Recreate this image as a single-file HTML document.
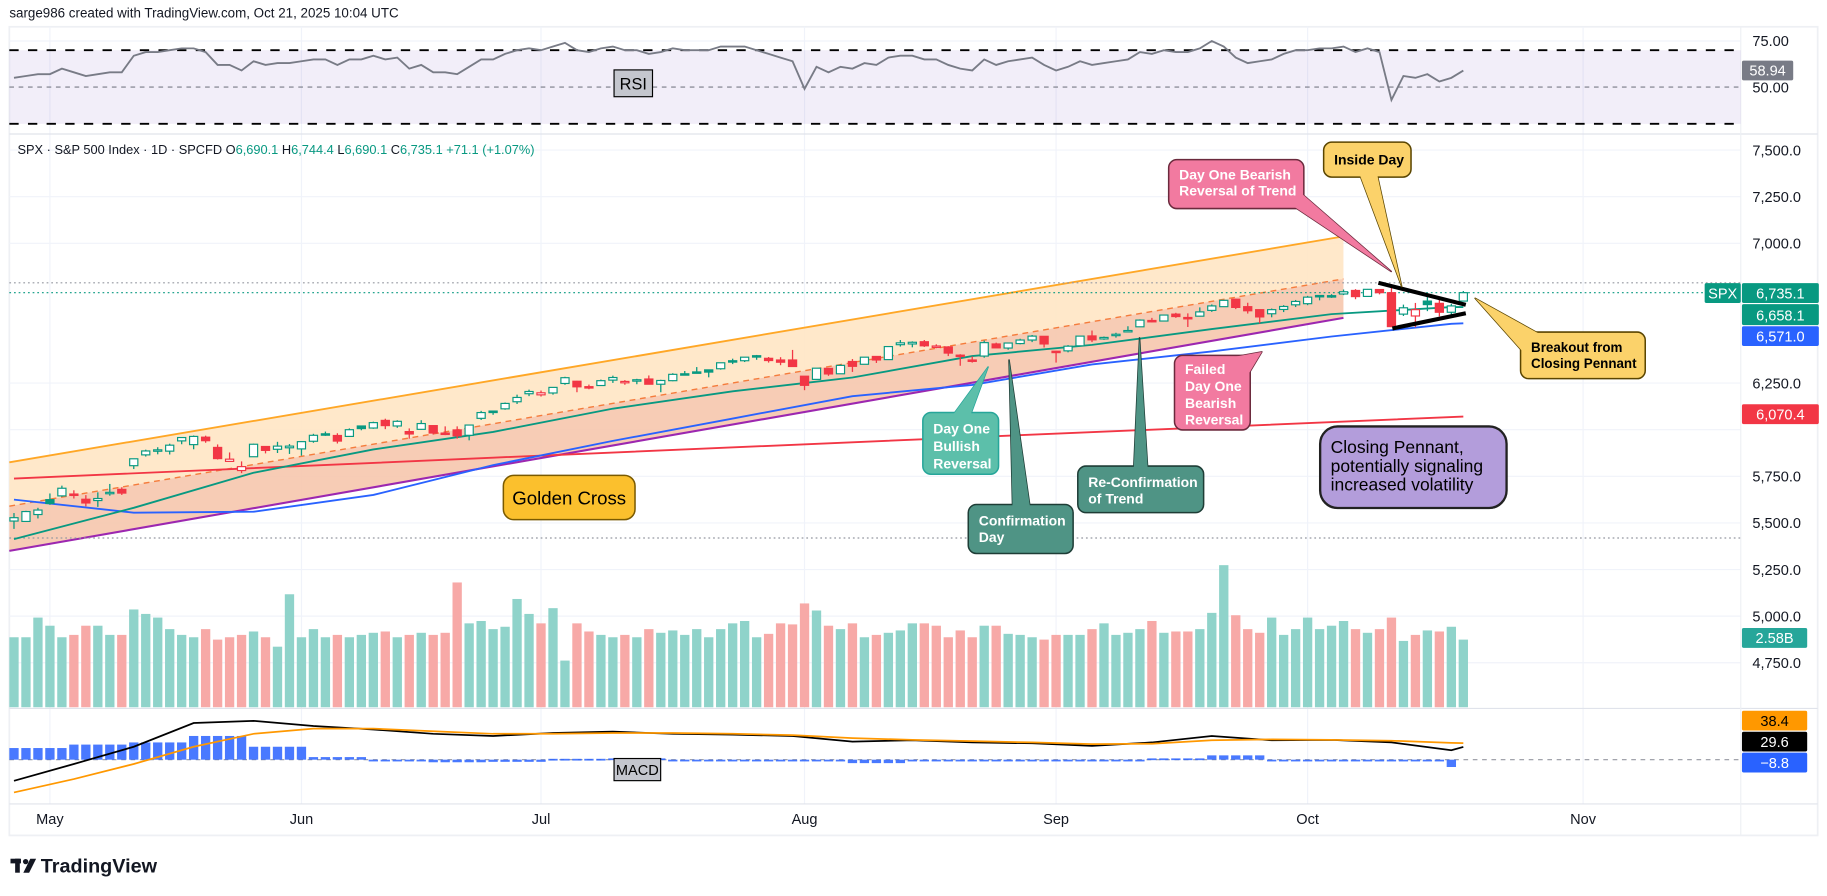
<!DOCTYPE html>
<html><head><meta charset="utf-8"><style>
html,body{margin:0;padding:0;background:#fff;overflow:hidden}
svg{display:block;font-family:"Liberation Sans",sans-serif}
</style></head><body>
<svg id="c" width="1827" height="896" viewBox="0 0 1568 769" preserveAspectRatio="none" xmlns="http://www.w3.org/2000/svg">
<rect x="0" y="0" width="1568" height="769" fill="#fff"/>
<text x="8" y="15" font-size="11.5" fill="#131722">sarge986 created with TradingView.com, Oct 21, 2025 10:04 UTC</text>
<rect x="8" y="23" width="1552" height="694" fill="none" stroke="#eef0f4" stroke-width="1.5"/>
<g id="grid"></g>
<g id="rsi"></g>
<g id="channel"></g>
<g id="vol"></g>
<g id="mas"></g>
<g id="candles"></g>
<g id="macd"></g>
<g id="notes"></g>
<g id="axes"></g>
</svg>
<script>
const NS='http://www.w3.org/2000/svg';
const closes=[5528,5561,5569,5604,5686,5650,5607,5631,5664,5660,5844,5886,5892,5917,5958,5964,5941,5845,5842,5802,5922,5889,5912,5912,5936,5970,5971,5939,6000,6006,6038,6022,6045,5977,6033,5982,5981,5967,6025,6092,6092,6141,6173,6205,6198,6227,6279,6230,6226,6263,6280,6259,6268,6244,6264,6297,6297,6306,6309,6359,6363,6389,6390,6371,6362,6339,6238,6330,6299,6345,6340,6389,6374,6446,6466,6469,6450,6449,6411,6396,6370,6467,6439,6465,6481,6502,6460,6416,6448,6502,6482,6495,6512,6532,6588,6584,6615,6607,6600,6632,6664,6694,6656,6638,6605,6644,6661,6688,6711,6715,6716,6740,6714,6753,6735,6553,6654,6644,6671,6630,6664,6735];
const opens=[5510,5508,5545,5625,5645,5655,5627,5620,5660,5680,5807,5865,5890,5885,5940,5920,5960,5905,5830,5781,5855,5910,5895,5903,5897,5938,5978,5969,5964,6020,6009,6050,6020,5990,6002,6022,5982,5999,5970,6061,6100,6112,6150,6193,6187,6197,6248,6260,6231,6237,6266,6257,6261,6272,6244,6263,6300,6310,6321,6327,6370,6370,6397,6383,6374,6374,6287,6270,6329,6300,6366,6351,6393,6376,6456,6460,6472,6445,6444,6400,6374,6395,6460,6438,6462,6481,6501,6421,6423,6450,6503,6487,6505,6525,6552,6586,6583,6620,6602,6609,6640,6660,6700,6660,6644,6622,6645,6670,6676,6720,6719,6728,6747,6715,6752,6735,6620,6610,6690,6678,6630,6690];
const highs=[5553,5565,5581,5658,5700,5675,5649,5664,5709,5691,5845,5893,5906,5925,5959,5969,5968,5921,5878,5830,5925,5912,5935,5923,5938,5978,5990,5981,6007,6021,6043,6059,6051,6007,6051,6023,6018,6018,6028,6101,6101,6146,6188,6215,6210,6227,6284,6262,6242,6269,6290,6266,6273,6291,6268,6303,6315,6336,6322,6360,6381,6390,6401,6390,6389,6428,6288,6330,6330,6350,6379,6390,6395,6446,6481,6474,6481,6458,6448,6405,6393,6478,6467,6466,6488,6508,6502,6423,6454,6502,6532,6500,6520,6555,6592,6600,6616,6627,6624,6656,6672,6694,6702,6681,6645,6650,6668,6696,6718,6720,6727,6752,6754,6755,6754,6764,6671,6680,6725,6710,6675,6744];
const lows=[5468,5505,5524,5597,5640,5631,5589,5586,5646,5650,5789,5856,5868,5867,5922,5895,5930,5840,5830,5767,5855,5873,5875,5870,5861,5930,5967,5926,5964,5997,6005,6003,6010,5952,6000,5974,5971,5952,5943,6052,6080,6107,6138,6180,6178,6188,6241,6201,6217,6237,6251,6241,6244,6243,6201,6260,6291,6303,6281,6322,6352,6363,6375,6360,6346,6338,6212,6270,6289,6300,6310,6351,6358,6375,6446,6442,6444,6437,6395,6343,6360,6386,6439,6429,6458,6470,6441,6360,6415,6446,6470,6482,6494,6525,6551,6575,6581,6600,6551,6607,6632,6660,6647,6623,6570,6603,6631,6658,6668,6694,6707,6722,6700,6715,6726,6551,6610,6550,6636,6608,6610,6690];
const volumes=[2.67,2.67,3.42,3.11,2.67,2.76,3.11,3.11,2.76,2.76,3.73,3.56,3.42,2.98,2.76,2.67,2.98,2.58,2.67,2.76,2.89,2.67,2.31,4.31,2.67,2.98,2.67,2.76,2.67,2.76,2.84,2.89,2.67,2.76,2.84,2.76,2.84,4.76,3.2,3.29,2.98,3.07,4.13,3.56,3.2,3.78,1.78,3.2,2.89,2.76,2.67,2.76,2.67,2.98,2.84,2.93,2.76,2.98,2.67,2.98,3.2,3.29,2.67,2.8,3.2,3.16,3.96,3.69,3.11,2.98,3.2,2.67,2.76,2.84,2.93,3.2,3.2,3.11,2.67,2.93,2.67,3.11,3.11,2.8,2.76,2.67,2.58,2.76,2.76,2.76,2.98,3.2,2.76,2.84,2.98,3.29,2.84,2.89,2.89,2.98,3.6,5.42,3.51,2.98,2.84,3.42,2.76,2.98,3.42,2.98,3.11,3.29,2.98,2.84,2.98,3.42,2.53,2.76,2.93,2.89,3.07,2.58];
const rsiValues=[55,56,57,57,60,58,56,57,58,58,67,69,69,70,71,71,69,62,62,59,64,62,63,63,64,65,65,62,65,65,67,65,66,60,62,58,58,57,61,65,65,68,70,71,70,72,74,70,69,71,72,70,70,68,69,71,70,70,70,72,72,72,70,68,66,64,49,61,58,61,60,63,62,66,67,67,65,65,62,60,59,65,62,64,65,66,62,59,61,64,62,63,64,65,69,68,70,69,69,71,75,72,66,63,64,65,68,70,70,71,71,72,69,71,69,43,56,55,57,53,55,58.94];
const maIdx=[0,10,20,30,40,50,60,70,80,90,100,110,120,121];
const ema20=[5413,5581,5769,5894,5988,6113,6206,6280,6395,6455,6540,6620,6658,6658];
const sma50=[5625,5555,5560,5650,5810,5940,6060,6180,6240,6350,6420,6500,6568,6571];
const sma200Idx=[0,40,80,121];
const sma200=[5738,5850,5960,6070.4];
const macdIdx=[0,5,10,15,20,25,30,35,40,45,50,55,60,65,70,75,80,85,90,95,100,105,110,115,120,121];
const macdLine=[-49,-10,30,85,90,78,70,60,55,62,65,60,58,55,42,45,40,38,32,40,55,45,46,40,22,29.6];
const signalLine=[-76,-45,-10,30,60,72,72,66,60,60,62,62,60,57,50,46,43,40,36,37,45,47,46,44,39,38.4];
const priceTicks=[7500,7250,7000,6250,5750,5500,5250,5000,4750];
const rsiTicks=[75,50];
const monthLabels=['May','Jun','Jul','Aug','Sep','Oct','Nov'];
const monthIdx=[3,24,44,66,87,108,131];

const X=i=>12+i*10.28, YP=p=>128.8+(7500-p)*0.16, YV=v=>607-v*22.5, YM=m=>652-m*0.37, YR=r=>74.7-(r-50)*1.58;
function mk(tag,attrs,parent){const e=document.createElementNS(NS,tag);for(const k in attrs)e.setAttribute(k,attrs[k]);document.getElementById(parent).appendChild(e);return e;}
function txt(parent,x,y,s,size,fill,anchor,weight){const t=mk('text',{x:x,y:y,'font-size':size,fill:fill,'text-anchor':anchor||'start','font-weight':weight||'normal'},parent);t.textContent=s;return t;}

priceTicks.concat([6000]).forEach(p=>{const l=mk('line',{x1:8,x2:1494,y1:YP(p),y2:YP(p),stroke:'#f0f3fa'},'grid');

});
monthIdx.forEach(i=>{const l=mk('line',{x1:X(i),x2:X(i),y1:23,y2:690,stroke:'#f0f3fa'},'grid');

});
[[115,'rsi-pane-divider'],[608,'macd-pane-divider'],[690,'time-axis-divider']].forEach(a=>{const l=mk('line',{x1:8,x2:1560,y1:a[0],y2:a[0],stroke:'#e0e3eb'},'grid');

});
const ax=mk('line',{x1:1494,x2:1494,y1:23,y2:717,stroke:'#eef0f4'},'grid');



const band=mk('rect',{x:8,y:YR(70),width:1486,height:YR(30)-YR(70),fill:'#7e57c2','fill-opacity':0.1},'rsi');


mk('line',{x1:8,x2:1494,y1:YR(75),y2:YR(75),stroke:'#f0f3fa'},'rsi');
[[70,'rsi-upper-band',[8,8],1.6,'#000'],[30,'rsi-lower-band',[8,8],1.6,'#000'],[50,'rsi-middle-band',[4,4],1,'#787b86']].forEach(a=>{const l=mk('line',{x1:8,x2:1494,y1:YR(a[0]),y2:YR(a[0]),stroke:a[4],'stroke-width':a[3],'stroke-dasharray':a[2].join(' ')},'rsi');

});
const rl=mk('polyline',{points:rsiValues.map((r,i)=>X(i)+','+YR(r)).join(' '),fill:'none',stroke:'#787b86','stroke-width':1.6},'rsi');


const rb=mk('rect',{x:527,y:60,width:33,height:23,fill:'#c4c6ce',stroke:'#000','stroke-width':1},'rsi');


txt('rsi',543.5,77,'RSI',14,'#000','middle');

const lg=mk('text',{x:15,y:132,'font-size':11,fill:'#131722'},'axes');


lg.innerHTML='SPX · S&amp;P 500 Index · 1D · SPCFD  O<tspan fill="#089981">6,690.1</tspan>  H<tspan fill="#089981">6,744.4</tspan>  L<tspan fill="#089981">6,690.1</tspan>  C<tspan fill="#089981">6,735.1</tspan>  <tspan fill="#089981">+71.1 (+1.07%)</tspan>';

const chX0=8,chX1=1153,up0=5825,up1=7037,mid0=5590,mid1=6809,lo0=5350,lo1=6600;
const f1=mk('polygon',{points:`${chX0},${YP(up0)} ${chX1},${YP(up1)} ${chX1},${YP(mid1)} ${chX0},${YP(mid0)}`,fill:'#ffe6c4','fill-opacity':0.9},'channel');


const f2=mk('polygon',{points:`${chX0},${YP(mid0)} ${chX1},${YP(mid1)} ${chX1},${YP(lo1)} ${chX0},${YP(lo0)}`,fill:'#f6c7ad','fill-opacity':0.9},'channel');


const l1=mk('line',{x1:chX0,y1:YP(up0),x2:chX1,y2:YP(up1),stroke:'#ffa726','stroke-width':1.6},'channel');


const l2=mk('line',{x1:chX0,y1:YP(mid0),x2:chX1,y2:YP(mid1),stroke:'#f57c3c','stroke-width':1.2,'stroke-dasharray':'5 4'},'channel');


const l3=mk('line',{x1:chX0,y1:YP(lo0),x2:chX1,y2:YP(lo1),stroke:'#9c27b0','stroke-width':1.8},'channel');


[[6788,'#9598a1','prior-high-line'],[6735,'#089981','last-price-line'],[5419,'#9598a1','prior-low-line']].forEach(a=>{const l=mk('line',{x1:8,x2:1494,y1:YP(a[0]),y2:YP(a[0]),stroke:a[1],'stroke-width':1,'stroke-dasharray':'1.5 2.5'},'channel');

});

volumes.forEach((v,i)=>{const up=i===0?closes[i]>=opens[i]:closes[i]>=closes[i-1];
const r=mk('rect',{x:X(i)-4,y:YV(v),width:8,height:607-YV(v),fill:up?'#8fd3ca':'#f7a9a7'},'vol');

});

function maLine(idx,vals,color,name,w){const p=mk('polyline',{points:idx.map((k,j)=>X(k)+','+YP(vals[j])).join(' '),fill:'none',stroke:color,'stroke-width':w,'stroke-linejoin':'round'},'mas');

}
maLine(sma200Idx,sma200,'#f23645','sma-200-line',1.6);
maLine(maIdx,sma50,'#2962ff','sma-50-line',1.6);
maLine(maIdx,ema20,'#089981','ema-20-line',1.6);

closes.forEach((c,i)=>{const o=opens[i];const up=i===0?c>=o:c>=closes[i-1];const col=up?'#089981':'#f23645';
const w=mk('line',{x1:X(i),x2:X(i),y1:YP(highs[i]),y2:YP(lows[i]),stroke:col,'stroke-width':1.1},'candles');


const top=YP(Math.max(o,c)),bot=YP(Math.min(o,c));
const b=mk('rect',{x:X(i)-3.5,y:top,width:7,height:Math.max(1.2,bot-top),fill:c<o?col:'#fff',stroke:col,'stroke-width':1},'candles');

});

[[1183,6788,1258,6670],[1195,6543,1258,6625]].forEach((a,k)=>{const l=mk('line',{x1:a[0],y1:YP(a[1]),x2:a[2],y2:YP(a[3]),stroke:'#000','stroke-width':3.5},'candles');

});

mk('line',{x1:8,x2:1494,y1:YM(0),y2:YM(0),stroke:'#9598a1','stroke-dasharray':'4 4'},'macd');
macdIdx.forEach((k,j)=>{if(j===macdIdx.length-1)return;const h=macdLine[j]-signalLine[j];
for(let i=k;i<macdIdx[j+1];i++){
const y0=YM(Math.max(h,0)),y1=YM(Math.min(h,0));
const r=mk('rect',{x:X(i)-4,y:y0,width:8,height:Math.max(1.5,y1-y0),fill:'#2962ff','fill-opacity':0.85},'macd');

}});
const ml=mk('polyline',{points:macdIdx.map((k,j)=>X(k)+','+YM(macdLine[j])).join(' '),fill:'none',stroke:'#000','stroke-width':1.5},'macd');


const sl=mk('polyline',{points:macdIdx.map((k,j)=>X(k)+','+YM(signalLine[j])).join(' '),fill:'none',stroke:'#ff9800','stroke-width':1.5},'macd');


const mb=mk('rect',{x:527,y:651,width:40,height:19,fill:'#c4c6ce',stroke:'#000'},'macd');


txt('macd',547,665,'MACD',12.5,'#000','middle');

function note(name,rx,ry,rw,rh,tri,fill,stroke,lines,color,size,weight,lh,ty,rad){
const g=mk('g',{},'notes');


const attrs={fill:fill,stroke:stroke,'stroke-width':1.3,'stroke-linejoin':'round'};
if(tri){const t=document.createElementNS(NS,'polygon');for(const k in attrs)t.setAttribute(k,attrs[k]);t.setAttribute('points',tri.map(p=>p.join(',')).join(' '));g.appendChild(t);}
const r=document.createElementNS(NS,'rect');for(const k in attrs)r.setAttribute(k,attrs[k]);
r.setAttribute('x',rx);r.setAttribute('y',ry);r.setAttribute('width',rw);r.setAttribute('height',rh);r.setAttribute('rx',rad||7);g.appendChild(r);
if(tri){const t=document.createElementNS(NS,'polygon');t.setAttribute('fill',fill);t.setAttribute('points',tri.map(p=>p.join(',')).join(' '));g.appendChild(t);}
lines.forEach((s,k)=>{const t=document.createElementNS(NS,'text');t.setAttribute('x',rx+9);t.setAttribute('y',ry+ty+k*lh);t.setAttribute('font-size',size);t.setAttribute('fill',color);t.setAttribute('font-weight',weight);t.textContent=s;g.appendChild(t);});
return g;}
note('golden-cross-note',432,408,113,38,null,'#fbc02d','#7a5a00',[],'#000',16,'normal',0,0,9);
txt('notes',488.5,433,'Golden Cross',16,'#000','middle');
note('day-one-bullish-reversal-note',792,354,65,53,[[818,356],[848,315],[833,356]],'#5cbfaa','#26a69a',['Day One','Bullish','Reversal'],'#fff',12,'bold',15,18);
note('confirmation-day-note',831,433,90,42,[[869,435],[866,309],[884,435]],'#4f9485','#1e3d36',['Confirmation','Day'],'#fff',12,'bold',14,18);
note('re-confirmation-note',925,400,108,40,[[973,402],[978,290],[985,402]],'#4f9485','#1e3d36',['Re-Confirmation','of Trend'],'#fff',12,'bold',14,18);
note('failed-bearish-reversal-note',1008,305,65,64,[[1055,307],[1083,302],[1071,322]],'#f27aa0','#6b2a3d',['Failed','Day One','Bearish','Reversal'],'#fff',12,'bold',14.5,16);
note('day-one-bearish-reversal-note',1003,137,116,42,[[1110,177],[1194,233],[1117,166]],'#f27aa0','#6b2a3d',['Day One Bearish','Reversal of Trend'],'#fff',12,'bold',14,17);
note('inside-day-note',1136,122,75,30,[[1167,150],[1203,246],[1182,150]],'#fbd26a','#5a4500',['Inside Day'],'#000',12,'bold',14,19);
note('breakout-note',1305,285,107,40,[[1307,302],[1266,256],[1322,287]],'#fbd26a','#5a4500',['Breakout from','Closing Pennant'],'#000',11.5,'bold',14,17);
const cp=note('closing-pennant-note',1133,366,160,70,null,'#b39ddb','#222',['Closing Pennant,','potentially signaling','increased volatility'],'#000',15,'normal',16,23,15);
cp.querySelector('rect').setAttribute('stroke-width',2);

priceTicks.forEach(p=>{const t=txt('axes',1504,YP(p)+4.5,p.toLocaleString('en-US',{minimumFractionDigits:1}),12.5,'#131722');
});
rsiTicks.forEach(r=>{const t=txt('axes',1504,YR(r)+4.5,r.toFixed(2),12.5,'#131722');
});
monthLabels.forEach((m,k)=>{const t=txt('axes',X(monthIdx[k]),707,m,12.5,'#131722','middle');
});
function tag(name,x,y,w,h,fill,s,col){const r=mk('rect',{x:x,y:y,width:w,height:h,fill:fill,rx:1.5},'axes');


txt('axes',x+w/2,y+h-4,s,12.5,col||'#fff','middle');}
tag('rsi-value-tag',1495,52,44,17,'#787b86','58.94');
tag('spx-symbol-tag',1463,243,31,17,'#089981','SPX');
tag('last-price-tag',1495,243,66,17,'#089981','6,735.1');
tag('ema20-value-tag',1495,261,66,18,'#089981','6,658.1');
tag('sma50-value-tag',1495,280,66,17,'#2962ff','6,571.0');
tag('sma200-value-tag',1495,347,66,17,'#f23645','6,070.4');
tag('volume-value-tag',1495,539,56,17,'#26a69a','2.58B');
tag('signal-value-tag',1495,610,56,17,'#ff9800','38.4','#000');
tag('macd-value-tag',1495,628,56,17,'#000','29.6');
tag('histogram-value-tag',1495,646,56,17,'#2962ff','−8.8');

const lgG=mk('g',{},'axes');


mk('rect',{x:9,y:737,width:9,height:4,fill:'#131722'},'axes');
mk('rect',{x:13,y:737,width:4,height:12,fill:'#131722'},'axes');
mk('circle',{cx:22,cy:739.5,r:2.3,fill:'#131722'},'axes');
mk('polygon',{points:'26,737 31,737 25,749 20,749',fill:'#131722'},'axes');
txt('axes',35,749,'TradingView',17,'#131722','start','bold');
</script>
</body></html>
